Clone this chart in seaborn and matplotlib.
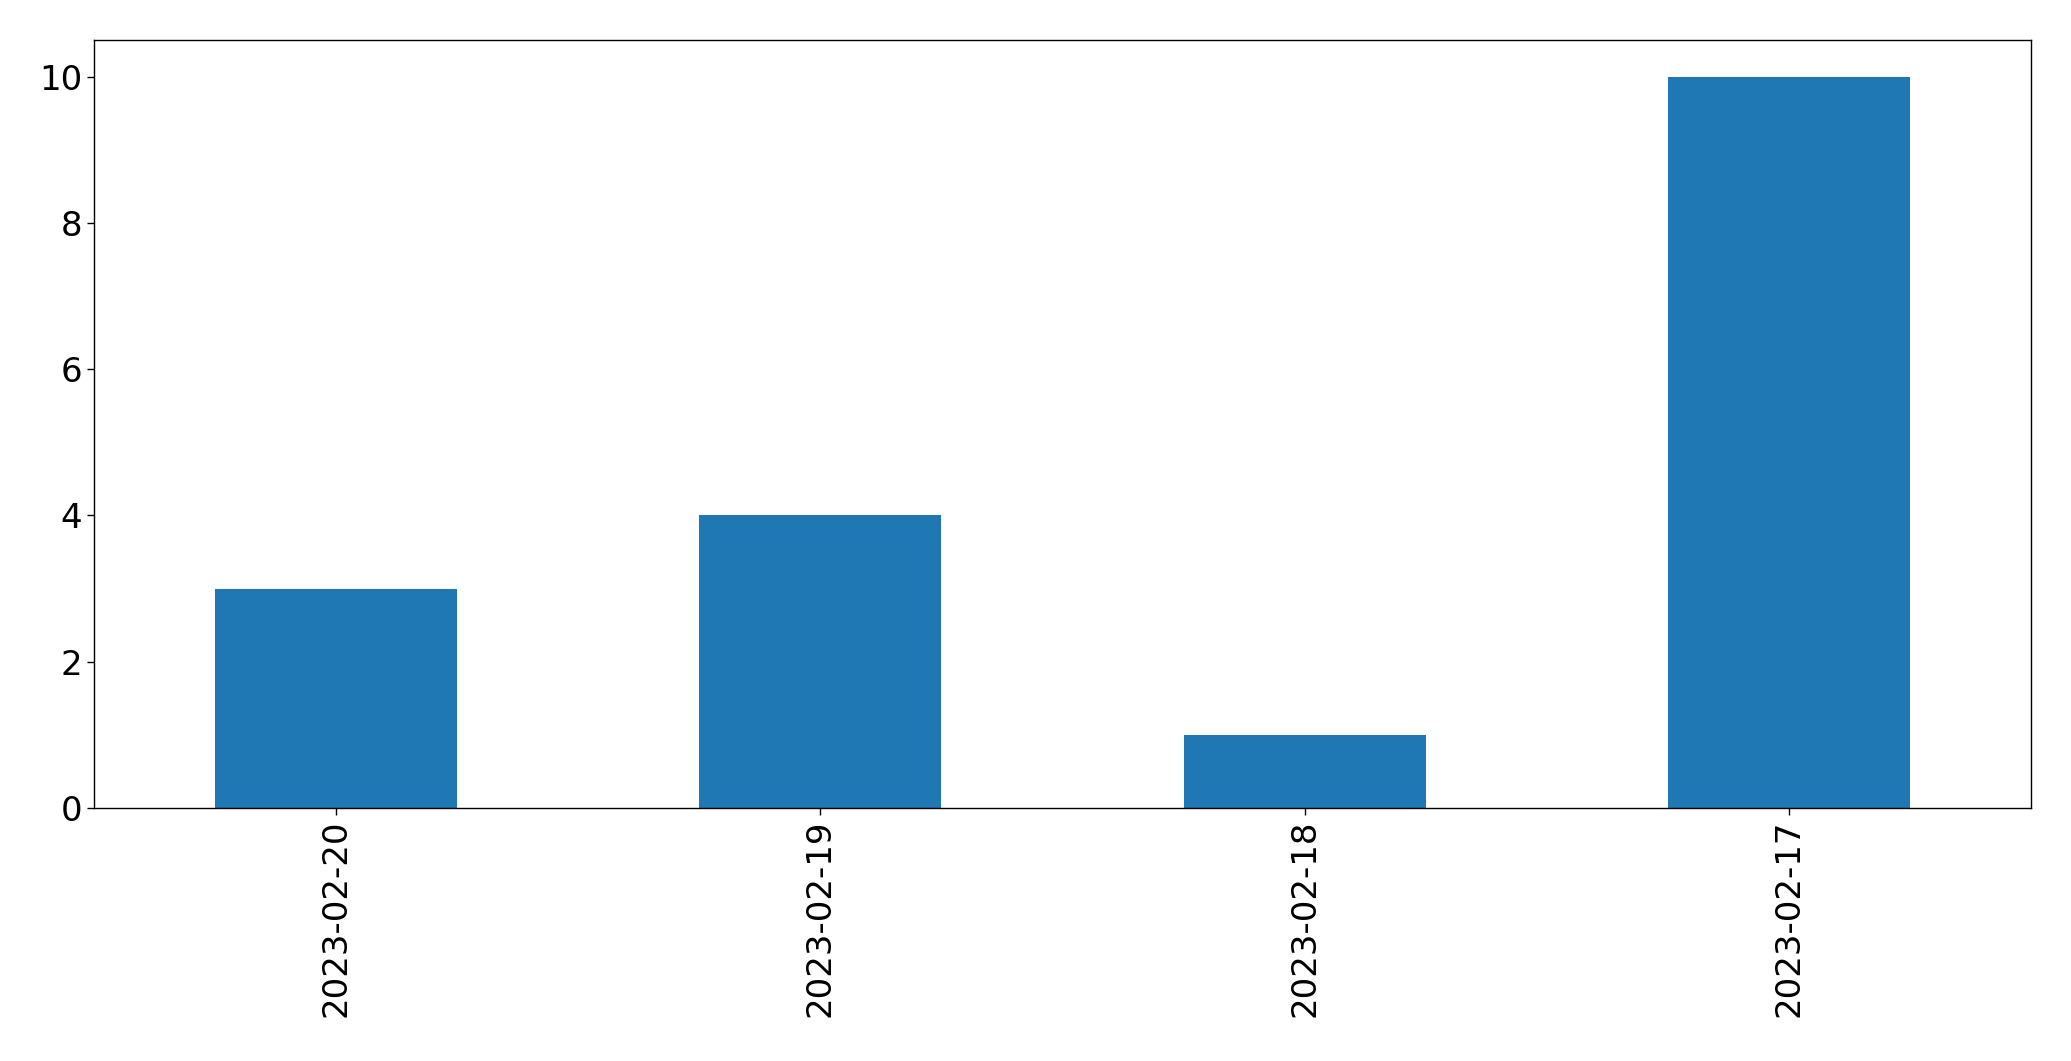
import matplotlib
matplotlib.use("Agg")
import matplotlib.pyplot as plt
import seaborn as sns
import pandas as pd

dates = ["2023-02-20", "2023-02-19", "2023-02-18", "2023-02-17"]
counts = [3, 4, 1, 10]

sns.set_style("ticks")
plt.rcParams['font.family'] = ['DejaVu Sans']

df = pd.DataFrame({"date": dates, "count": counts})

fig = plt.figure(figsize=(20.71, 10.61), dpi=100)
ax = fig.add_axes([94/2071, 1-808/1061, (2031-94)/2071, (808-40)/1061])
sns.barplot(data=df, x="date", y="count", color="#1f77b4", saturation=1, width=0.5, ax=ax)
for p in ax.patches:
    p.set_edgecolor("none")
ax.set_xlim(-0.5, 3.5)
ax.set_ylim(0, 10.5)
ax.set_xlabel("")
ax.set_ylabel("")
ax.tick_params(axis="both", labelsize=24.5, length=5, width=1, color="black", labelcolor="black")
plt.setp(ax.get_xticklabels(), rotation=90)
for s in ax.spines.values():
    s.set_visible(True)
    s.set_linewidth(1)
    s.set_color("black")
fig.savefig("out.png", dpi=100)
